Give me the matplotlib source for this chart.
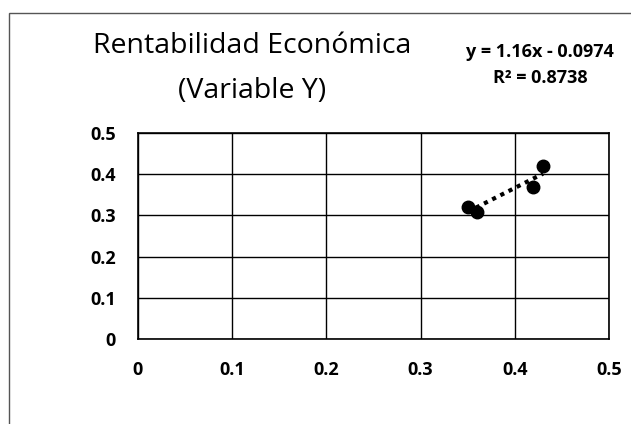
import matplotlib.pyplot as plt
from matplotlib.patches import Rectangle

# data
x_vals = [0.350, 0.360, 0.419, 0.430]
y_vals = [0.320, 0.308, 0.368, 0.420]
slope, intercept = 1.16, -0.0974
ticks = [0, 0.1, 0.2, 0.3, 0.4, 0.5]
tick_labels = ['0', '0.1', '0.2', '0.3', '0.4', '0.5']

plt.rcParams['font.family'] = ['Open Sans', 'DejaVu Sans']

fig = plt.figure(figsize=(6.31, 4.24), dpi=100)
ax = fig.add_axes([0.2187, 0.2005, 0.7464, 0.4858])

ax.plot(x_vals, y_vals, 'o', color='black', markersize=9, zorder=3)

# linear trendline across the data range
tx = [min(x_vals), max(x_vals)]
ty = [slope * v + intercept for v in tx]
ax.plot(tx, ty, linestyle=(0, (1, 1.2)), color='black', linewidth=3, zorder=2)

ax.set_xlim(0, 0.5)
ax.set_ylim(0, 0.5)
ax.set_xticks(ticks)
ax.set_xticklabels(tick_labels, fontsize=13, fontweight='bold')
ax.set_yticks(ticks)
ax.set_yticklabels(tick_labels, fontsize=13, fontweight='bold')
ax.tick_params(length=0, pad=16)
ax.grid(True, color='black', linewidth=1)
for s in ax.spines.values():
    s.set_linewidth(1.2)

fig.text(0.400, 0.875, 'Rentabilidad Económica', ha='center', va='baseline', fontsize=20.5)
fig.text(0.400, 0.769, '(Variable Y)', ha='center', va='baseline', fontsize=20.5)
fig.text(0.856, 0.866, 'y = 1.16x - 0.0974', ha='center', va='baseline', fontsize=13, fontweight='bold')
fig.text(0.856, 0.804, 'R² = 0.8738', ha='center', va='baseline', fontsize=13, fontweight='bold')

# chart area border
fig.patches.append(Rectangle((0.014, -0.05), 1.1, 1.02, transform=fig.transFigure,
                             fill=False, edgecolor='#555555', linewidth=1))

fig.savefig('out.png', dpi=100)
